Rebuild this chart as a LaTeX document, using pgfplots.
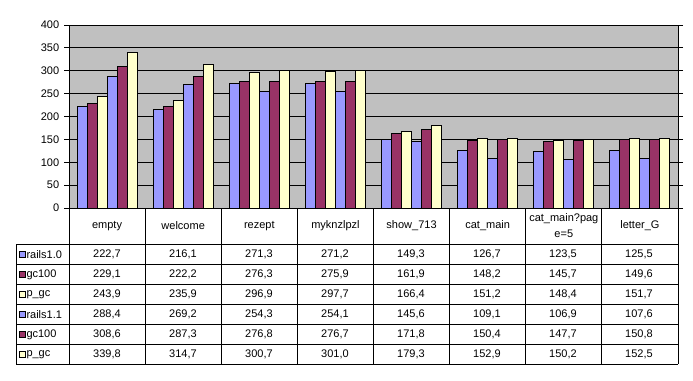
\documentclass[border=0pt]{standalone}
\usepackage{pgfplots}
\usepackage{pgfplotstable}
\pgfplotsset{compat=1.18}
\usepackage{fontspec}
\setmainfont{Liberation Sans}
\definecolor{cA}{HTML}{9999FF}
\definecolor{cB}{HTML}{993366}
\definecolor{cC}{HTML}{FFFFCC}
\definecolor{bg}{HTML}{C0C0C0}
\pgfplotstableread{
x   s1    s2    s3    s4    s5    s6
0.5 222.7 229.1 243.9 288.4 308.6 339.8
1.5 216.1 222.2 235.9 269.2 287.3 314.7
2.5 271.3 276.3 296.9 254.3 276.8 300.7
3.5 271.2 275.9 297.7 254.1 276.7 301.0
4.5 149.3 161.9 166.4 145.6 171.8 179.3
5.5 126.7 148.2 151.2 109.1 150.4 152.9
6.5 123.5 145.7 148.4 106.9 147.7 150.2
7.5 125.5 149.6 151.7 107.6 150.8 152.5
}\data
\newcommand\trow[4]{%
  \filldraw[fill=#2,draw=black,line width=0.8pt] (19.5,#1-2.8) rectangle (25,#1+2.8);
  \node[anchor=west,inner sep=0pt] at (26,#1) {#3};
  \foreach \v [count=\i] in {#4} \node[inner sep=0pt] at ({69+76*(\i-0.5)},#1) {\v};
}
\begin{document}
\fontsize{11}{13}\selectfont
\begin{tikzpicture}
\path (0pt,0pt) rectangle (693pt,-380pt);
\begin{axis}[at={(69pt,-208pt)}, anchor=south west, scale only axis,
  width=609pt, height=183pt, xmin=0, xmax=8, ymin=0, ymax=400,
  ytick={0,50,...,400}, xtick=\empty, ymajorgrids,
  grid style={black, line width=1pt},
  axis background/.style={fill=bg},
  axis line style={black, line width=1pt},
  tick style={black, line width=1pt},
  ytick align=outside, major tick length=5pt,
  ybar=0pt, bar width=10pt,
  /pgf/number format/assume math mode=true,
  yticklabel style={font=\fontsize{11}{13}\selectfont, xshift=-1pt},
  every axis plot/.append style={draw=black, line width=1pt},
  clip=false]
\addplot[fill=cA] table[x=x,y=s1] {\data};
\addplot[fill=cB] table[x=x,y=s2] {\data};
\addplot[fill=cC] table[x=x,y=s3] {\data};
\addplot[fill=cA] table[x=x,y=s4] {\data};
\addplot[fill=cB] table[x=x,y=s5] {\data};
\addplot[fill=cC] table[x=x,y=s6] {\data};
\end{axis}
\begin{scope}[x=1pt,y=-1pt, line width=1pt]
  % table lines
  \draw (69,208) -- (678,208);
  \foreach \yy in {244,264.5,284.5,304.5,324.5,344.5,364} \draw (16,\yy) -- (678,\yy);
  \draw (16,244) -- (16,364);
  \foreach \k in {0,...,8} \draw ({69+76.125*\k},208) -- ({69+76.125*\k},364);
  % header
  \foreach \t [count=\i] in {empty,welcome,rezept,myknzlpzl,show\_713,cat\_main,,letter\_G}
    \node[inner sep=0pt] at ({69+76.125*(\i-0.5)},226) {\t};
  \node[inner sep=0pt] at ({69+76.125*6.5},219) {cat\_main?pag};
  \node[inner sep=0pt] at ({69+76.125*6.5},233.5) {e=5};
  \trow{254.5}{cA}{rails1.0}{{222,7},{216,1},{271,3},{271,2},{149,3},{126,7},{123,5},{125,5}}
  \trow{274.5}{cB}{gc100}{{229,1},{222,2},{276,3},{275,9},{161,9},{148,2},{145,7},{149,6}}
  \trow{294.5}{cC}{p\_gc}{{243,9},{235,9},{296,9},{297,7},{166,4},{151,2},{148,4},{151,7}}
  \trow{314.5}{cA}{rails1.1}{{288,4},{269,2},{254,3},{254,1},{145,6},{109,1},{106,9},{107,6}}
  \trow{334.5}{cB}{gc100}{{308,6},{287,3},{276,8},{276,7},{171,8},{150,4},{147,7},{150,8}}
  \trow{354.5}{cC}{p\_gc}{{339,8},{314,7},{300,7},{301,0},{179,3},{152,9},{150,2},{152,5}}
\end{scope}
\end{tikzpicture}
\end{document}
